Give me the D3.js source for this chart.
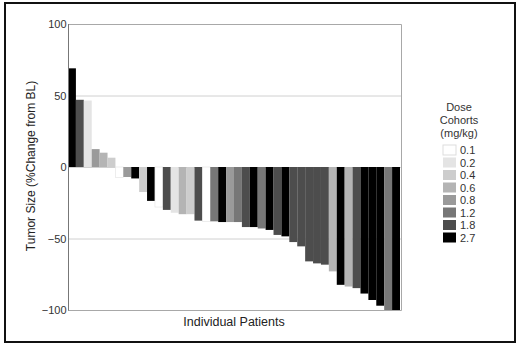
<!DOCTYPE html>
<html>
<head>
<meta charset="utf-8">
<script src="https://cdn.jsdelivr.net/npm/d3@7"></script>
<style>
  body { margin: 0; background: #fff; }
  svg { display: block; font-family: "Liberation Sans", Arial, sans-serif; }
</style>
</head>
<body>
<svg id="chart" width="520" height="347"></svg>
<script>
// DATA
var doseLabels = ["0.1", "0.2", "0.4", "0.6", "0.8", "1.2", "1.8", "2.7"];
var doseColors = ["#ffffff", "#e4e4e4", "#cdcdcd", "#b4b4b4", "#9a9a9a", "#777777", "#4d4d4d", "#000000"];

// one bar per patient, sorted (waterfall)
var patientValues = [69, 47, 46.5, 12.5, 10, 6.5, -7.3, -7, -8, -17.5,
  -23.7, -28, -30, -32, -33, -33, -37.5, -38, -38, -38.5,
  -38.5, -38.5, -42, -42, -43, -44, -47.5, -48.5, -52.5, -55.5,
  -66, -67.4, -68.3, -73, -82.4, -83.6, -84.7, -88.5, -93, -97,
  -100, -100];
var patientCohorts = ["2.7", "1.8", "0.2", "0.8", "0.6", "0.4", "0.1", "0.8", "2.7", "0.4",
  "2.7", "0.1", "1.8", "0.2", "0.6", "0.4", "1.8", "0.1", "1.2", "2.7",
  "0.8", "1.2", "1.8", "2.7", "1.2", "2.7", "1.8", "2.7", "1.8", "1.8",
  "1.8", "1.8", "1.8", "0.6", "2.7", "0.6", "1.8", "2.7", "2.7", "2.7",
  "1.2", "2.7"];

var yTicks = [100, 50, 0, -50, -100];
var gridTicks = [50, 0, -50];

// LAYOUT
var svg = d3.select("#chart");
var plot = { left: 68, right: 401, top: 24, bottom: 310 };

var x = d3.scaleBand()
  .domain(d3.range(patientValues.length))
  .range([plot.left, plot.right - 1])
  .padding(0);

var y = d3.scaleLinear()
  .domain([-100, 100])
  .range([plot.bottom, plot.top]);

var color = d3.scaleOrdinal().domain(doseLabels).range(doseColors);

// outer border
svg.append("rect")
  .attr("x", 5).attr("y", 3)
  .attr("width", 510).attr("height", 339)
  .attr("fill", "none")
  .attr("stroke", "#111")
  .attr("stroke-width", 2);

// gridlines
svg.append("g")
  .selectAll("line")
  .data(gridTicks)
  .join("line")
  .attr("x1", plot.left).attr("x2", plot.right)
  .attr("y1", function(d) { return y(d) + 0.5; })
  .attr("y2", function(d) { return y(d) + 0.5; })
  .attr("stroke", "#d0d0d0")
  .attr("stroke-width", 1);

// bars
svg.append("g")
  .selectAll("rect")
  .data(patientValues)
  .join("rect")
  .attr("x", function(d, i) { return x(i); })
  .attr("width", x.bandwidth())
  .attr("y", function(d) { return y(Math.max(0, d)); })
  .attr("height", function(d) { return Math.abs(y(d) - y(0)); })
  .attr("fill", function(d, i) { return color(patientCohorts[i]); })
  .attr("stroke", function(d, i) { return patientCohorts[i] === "0.1" ? "#e2e2e2" : "none"; })
  .attr("stroke-width", 0.6);

// plot frame (top, right, bottom)
svg.append("path")
  .attr("d", "M" + plot.left + "," + (plot.top + 0.5) +
    "H" + (plot.right + 0.5) + "V" + (plot.bottom + 0.5) + "H" + plot.left)
  .attr("fill", "none")
  .attr("stroke", "#a8a8a8");

// y axis
var yAxis = svg.append("g")
  .attr("transform", "translate(" + (plot.left + 0.5) + ",0)")
  .call(d3.axisLeft(y).tickValues(yTicks).tickSize(0).tickPadding(2).tickFormat(d3.format("d")));
yAxis.select(".domain").attr("stroke", "#777").attr("d", "M0," + plot.top + "V" + (plot.bottom + 0.5));
yAxis.selectAll("text")
  .attr("fill", "#333")
  .style("font-size", "11px");

// axis titles
svg.append("text")
  .attr("transform", "translate(35,166) rotate(-90)")
  .attr("text-anchor", "middle")
  .attr("fill", "#222")
  .style("font-size", "12px")
  .text("Tumor Size (%Change from BL)");

svg.append("text")
  .attr("x", 234).attr("y", 326)
  .attr("text-anchor", "middle")
  .attr("fill", "#222")
  .style("font-size", "12.5px")
  .text("Individual Patients");

// legend
var legend = svg.append("g").attr("transform", "translate(459,0)");
legend.selectAll("text.title")
  .data(["Dose", "Cohorts", "(mg/kg)"])
  .join("text")
  .attr("class", "title")
  .attr("x", 0)
  .attr("y", function(d, i) { return 111 + i * 13; })
  .attr("text-anchor", "middle")
  .attr("fill", "#333")
  .style("font-size", "11px")
  .text(function(d) { return d; });

var item = legend.selectAll("g.item")
  .data(doseLabels)
  .join("g")
  .attr("class", "item")
  .attr("transform", function(d, i) { return "translate(0," + (150 + i * 12.5) + ")"; });

item.append("rect")
  .attr("x", -16).attr("y", -5)
  .attr("width", 13).attr("height", 10)
  .attr("fill", function(d) { return color(d); })
  .attr("stroke", function(d) { return d === "0.1" ? "#ddd" : "none"; });

item.append("text")
  .attr("x", 1).attr("y", 4)
  .attr("fill", "#333")
  .style("font-size", "11px")
  .text(function(d) { return d; });
</script>
</body>
</html>
